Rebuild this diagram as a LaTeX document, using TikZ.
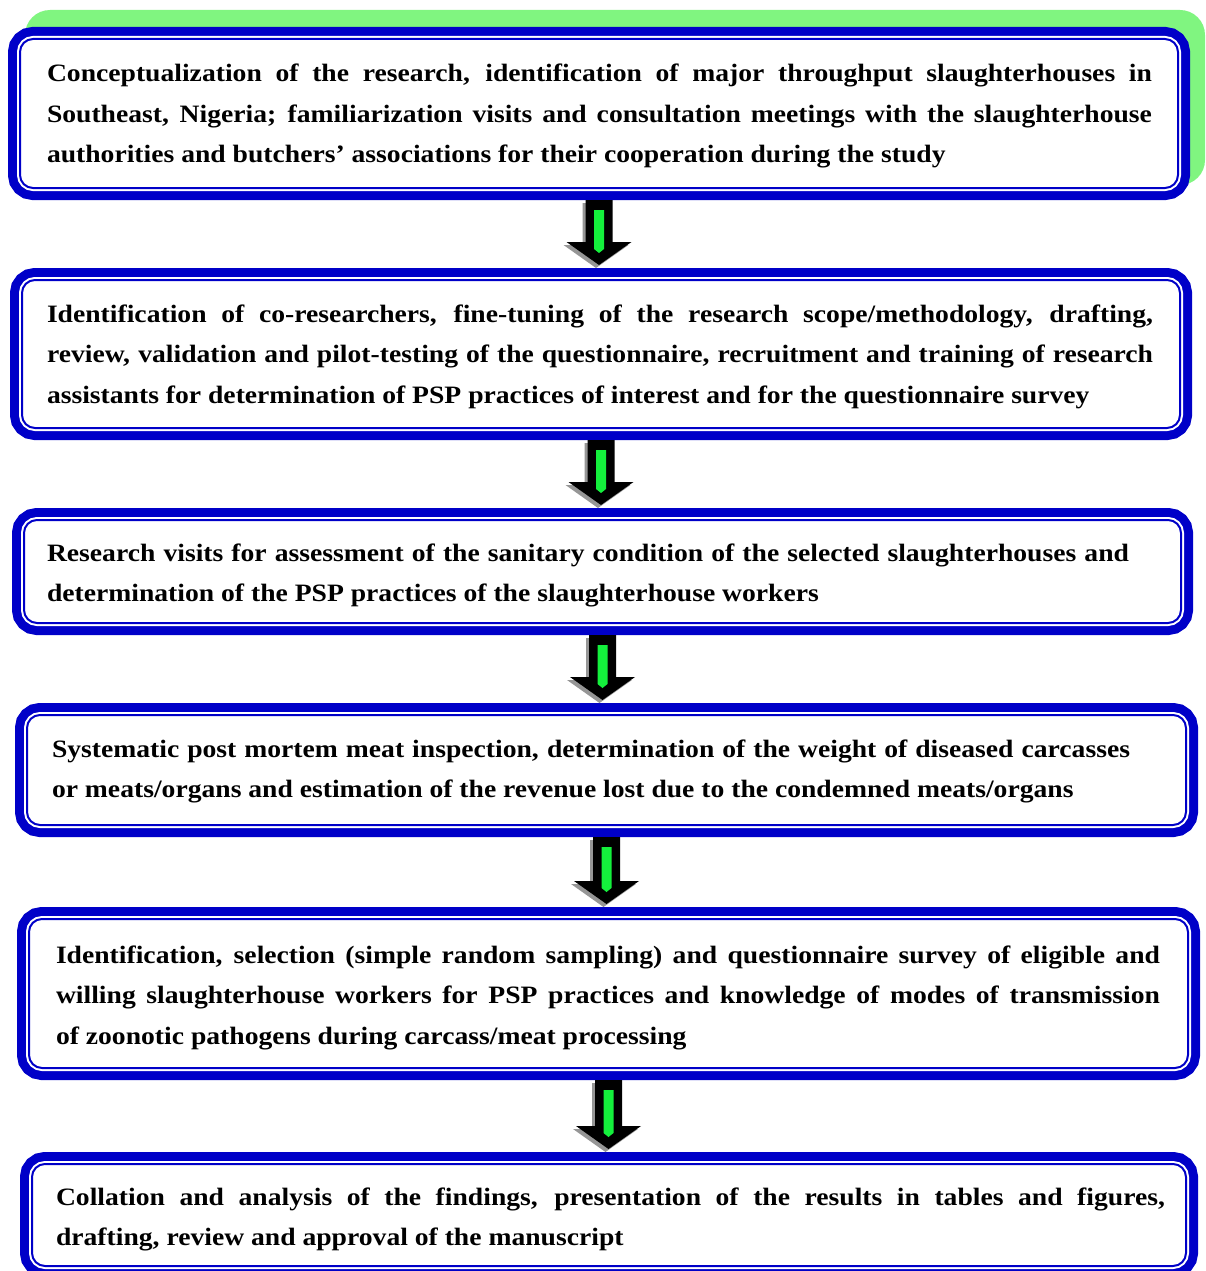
\documentclass[tikz,border=0pt]{standalone}
\usepackage{fontspec}
\setmainfont{Liberation Serif}[FakeStretch=1.105]
\usetikzlibrary{calc}
\definecolor{boxblue}{RGB}{0,0,200}
\definecolor{bggreen}{RGB}{128,245,128}
\definecolor{arrowgreen}{RGB}{20,240,60}
\definecolor{shadowgray}{RGB}{150,150,150}
\hyphenpenalty=10000
\exhyphenpenalty=10000

\newcommand\arrowshape[3]{%
  \fill[#3] ($(T)+(#1-13.5,#2)$) -- ($(T)+(#1+13.5,#2)$) -- ($(H)+(#1+13.5,#2)$)
    -- ($(H)+(#1+32.5,#2)$) -- ($(P)+(#1,#2)$) -- ($(H)+(#1-32.5,#2)$)
    -- ($(H)+(#1-13.5,#2)$) -- cycle;}

\newcommand\flowarrow[2]{%
  \coordinate (T) at ($(#1.south)+(0,12)$);
  \coordinate (P0) at ($(#2.north)+(0,-15)$);
  \coordinate (P) at (T |- P0);
  \coordinate (H) at ($(P)+(0,-23)$);
  \arrowshape{-3}{3}{shadowgray}
  \arrowshape{0}{0}{black}
  \fill[arrowgreen] ($(T)+(-5,10)$) -- ($(T)+(5,10)$) -- ($(H)+(5,7)$)
    -- ($(H)+(0,11)$) -- ($(H)+(-5,7)$) -- cycle;}

\begin{document}
\begin{tikzpicture}[x=1pt,y=-1pt,
  flowbox/.style={rectangle, rounded corners=13pt, fill=white, draw=boxblue,
    line width=2pt, inner sep=0pt, outer sep=0pt,
    preaction={draw=boxblue, line width=24pt},
    preaction={draw=white, line width=6pt}},
  txt/.style={anchor=base west, inner sep=0pt, outer sep=0pt, align=justify,
    font=\fontsize{25}{40.5}\selectfont\bfseries}]
\useasboundingbox (0,0) rectangle (1205,1271);
\fill[white] (0,0) rectangle (1205,1271);
\fill[bggreen, rounded corners=25pt] (25,10) rectangle (1205,185);

\node[flowbox, minimum width=1158pt, minimum height=149pt] (b1) at (599,113.5) {};
\node[flowbox, minimum width=1158pt, minimum height=148pt] (b2) at (601,354) {};
\node[flowbox, minimum width=1157pt, minimum height=103pt] (b3) at (602.5,571.5) {};
\node[flowbox, minimum width=1159pt, minimum height=110pt] (b4) at (606.5,770) {};
\node[flowbox, minimum width=1159pt, minimum height=149pt] (b5) at (608.5,993.5) {};
\node[flowbox, minimum width=1154pt, minimum height=102pt] (b6) at (609,1215) {};

\flowarrow{b1}{b2}
\flowarrow{b2}{b3}
\flowarrow{b3}{b4}
\flowarrow{b4}{b5}
\flowarrow{b5}{b6}

\node[txt, text width=1105pt] (t1) at (47,82) {Conceptualization of the research, identification of major throughput slaughterhouses in\linebreak Southeast, Nigeria; familiarization visits and consultation meetings with the slaughterhouse\linebreak authorities and butchers’ associations for their cooperation during the study};
\node[txt, text width=1106pt] (t2) at (47,322) {Identification of co-researchers, fine-tuning of the research scope/methodology, drafting,\linebreak review, validation and pilot-testing of the questionnaire, recruitment and training of research\linebreak assistants for determination of PSP practices of interest and for the questionnaire survey};
\node[txt, text width=1082pt] (t3) at (47,561) {Research visits for assessment of the sanitary condition of the selected slaughterhouses and\linebreak determination of the PSP practices of the slaughterhouse workers};
\node[txt, text width=1078pt] (t4) at (52,757) {Systematic post mortem meat inspection, determination of the weight of diseased carcasses\linebreak or meats/organs and estimation of the revenue lost due to the condemned meats/organs};
\node[txt, text width=1104pt] (t5) at (56,963) {Identification, selection (simple random sampling) and questionnaire survey of eligible and\linebreak willing slaughterhouse workers for PSP practices and knowledge of modes of transmission\linebreak of zoonotic pathogens during carcass/meat processing};
\node[txt, text width=1109pt] (t6) at (56,1205) {Collation and analysis of the findings, presentation of the results in tables and figures,\linebreak drafting, review and approval of the manuscript};
\end{tikzpicture}
\end{document}
